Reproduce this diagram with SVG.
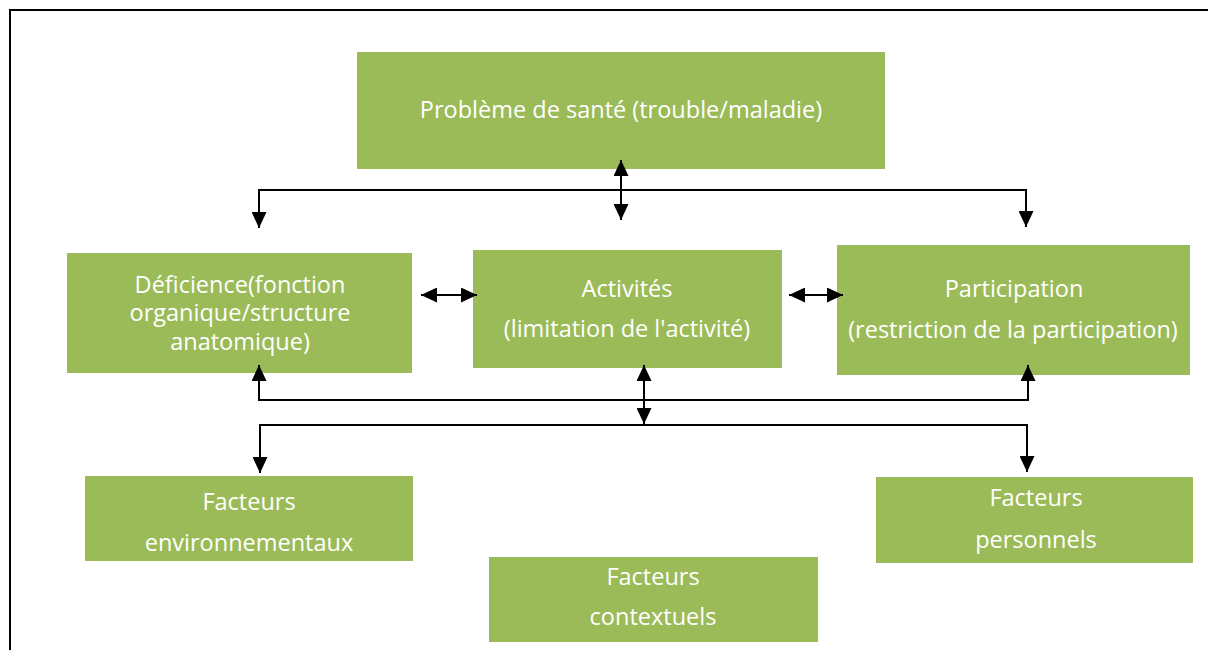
<svg xmlns="http://www.w3.org/2000/svg" width="1208" height="650" viewBox="0 0 1208 650">
<defs>
<style>
.box{fill:#9bbb59;}
.t{fill:#fff;font-family:"Open Sans","Liberation Sans",Arial,sans-serif;font-size:23.5px;text-anchor:middle;}
.c{fill:none;stroke:#000;stroke-width:2;}
</style>
<marker id="ah" viewBox="0 0 16 15" refX="16" refY="7.5" markerWidth="16" markerHeight="15" markerUnits="userSpaceOnUse" orient="auto-start-reverse">
<path d="M0,0 L16,7.5 L0,15 z" fill="#000"/>
</marker>
</defs>
<rect x="0" y="0" width="1208" height="650" fill="#fff"/>
<path d="M10,650 V10 H1208" fill="none" stroke="#000" stroke-width="2"/>
<g id="sante">
<rect class="box" x="357" y="52" width="528" height="117"/>
<text class="t" x="621" y="118">Problème de santé (trouble/maladie)</text>
</g>
<g id="deficience">
<rect class="box" x="67" y="253" width="345" height="120"/>
<text class="t" x="240" y="293">Déficience(fonction</text>
<text class="t" x="240" y="321">organique/structure</text>
<text class="t" x="240" y="350">anatomique)</text>
</g>
<g id="activites">
<rect class="box" x="473" y="250" width="309" height="118"/>
<text class="t" x="627" y="297">Activités</text>
<text class="t" x="627" y="337">(limitation de l'activité)</text>
</g>
<g id="participation">
<rect class="box" x="837" y="245" width="353" height="130"/>
<text class="t" x="1014" y="297">Participation</text>
<text class="t" x="1013" y="338">(restriction de la participation)</text>
</g>
<g id="environnementaux">
<rect class="box" x="85" y="476" width="328" height="85"/>
<text class="t" x="249" y="510">Facteurs</text>
<text class="t" x="249" y="551">environnementaux</text>
</g>
<g id="personnels">
<rect class="box" x="876" y="477" width="317" height="86"/>
<text class="t" x="1036" y="506">Facteurs</text>
<text class="t" x="1036" y="548">personnels</text>
</g>
<g id="contextuels">
<rect class="box" x="489" y="557" width="329" height="85"/>
<text class="t" x="653" y="585">Facteurs</text>
<text class="t" x="653" y="625">contextuels</text>
</g>
<g id="connectors">
<path class="c" d="M259,228 V190 H1026 V227" marker-start="url(#ah)" marker-end="url(#ah)"/>
<path class="c" d="M621,160 V220" marker-start="url(#ah)" marker-end="url(#ah)"/>
<path class="c" d="M421,295 H477" marker-start="url(#ah)" marker-end="url(#ah)"/>
<path class="c" d="M789,295 H843" marker-start="url(#ah)" marker-end="url(#ah)"/>
<path class="c" d="M259,365 V400 H1028 V365" marker-start="url(#ah)" marker-end="url(#ah)"/>
<path class="c" d="M644,365 V424" marker-start="url(#ah)" marker-end="url(#ah)"/>
<path class="c" d="M260,473 V425 H1027 V472" marker-start="url(#ah)" marker-end="url(#ah)"/>
</g>
</svg>
